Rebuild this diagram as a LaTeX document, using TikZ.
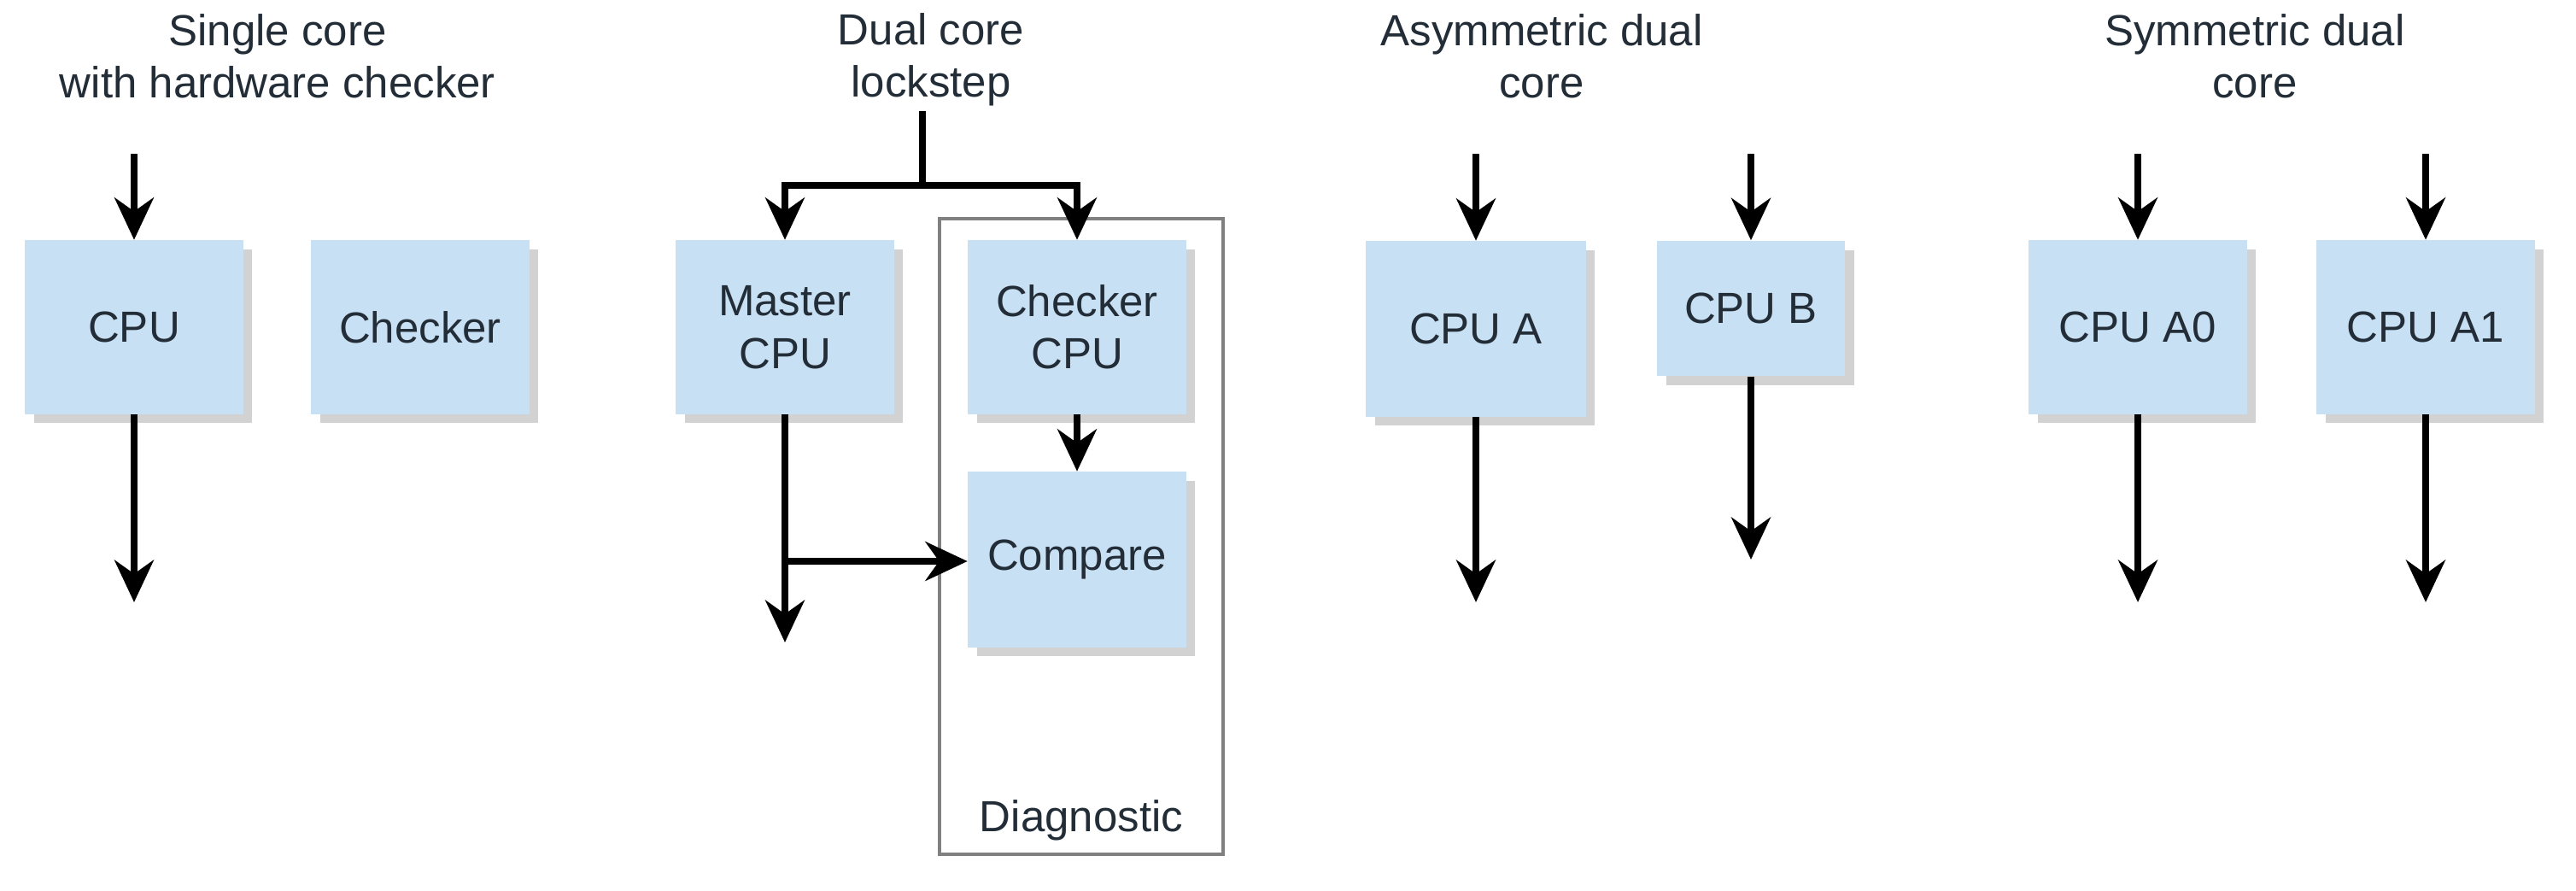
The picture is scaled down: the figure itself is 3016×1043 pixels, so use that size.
\documentclass[tikz,border=0pt]{standalone}
\usepackage{fontspec}
\setmainfont{Liberation Sans}
\usetikzlibrary{arrows.meta,shadows}
\definecolor{boxblue}{RGB}{200,224,244}
\definecolor{txt}{RGB}{35,45,55}
\begin{document}
\begin{tikzpicture}[x=0.01cm,y=-0.01cm,
  blk/.style={draw=none,fill=boxblue,inner sep=0pt,align=center,text=txt,
    font=\fontsize{14.5}{17.5}\selectfont,
    drop shadow={shadow xshift=3pt,shadow yshift=-3pt,fill=black!35,opacity=.5}},
  ttl/.style={align=center,font=\fontsize{14.5}{17.5}\selectfont,text=txt},
  arr/.style={line width=2.5pt,-{Stealth[length=14pt,width=13pt]}},
  ln/.style={line width=2.5pt}]
\useasboundingbox (0,0) rectangle (3016,1043);
% single core
\node[ttl] (t1) at (325,66) {Single core\\with hardware checker};
\node[blk,minimum width=2.55cm,minimum height=2.03cm] (cpu) at (157,383) {CPU};
\node[blk,minimum width=2.55cm,minimum height=2.03cm] (chk) at (492,383) {Checker};
\coordinate (cpuin) at (157,180);
\coordinate (cpuout) at (157,705);
\draw[arr] (cpuin) -- (cpu);
\draw[arr] (cpu) -- (cpuout);
% dual core lockstep
\node[ttl] (t2) at (1090,70) {Dual core\\lockstep};
\draw[gray,line width=1pt] (1100,256) rectangle (1432,1000);
\node[blk,minimum width=2.55cm,minimum height=2.03cm] (mst) at (919,383) {Master\\CPU};
\node[blk,minimum width=2.55cm,minimum height=2.03cm] (ccpu) at (1261,383) {Checker\\CPU};
\node[blk,minimum width=2.55cm,minimum height=2.05cm] (cmp) at (1261,655) {Compare};
\node[font=\fontsize{14.5}{17.5}\selectfont,text=txt] (diag) at (1266,960) {Diagnostic};
\coordinate (top) at (1080,130);
\coordinate (split) at (1080,217);
\coordinate (mout) at (919,752);
\coordinate (tap) at (919,657);
\draw[ln] (top) -- (split);
\draw[arr] (split) -| (mst);
\draw[arr] (split) -| (ccpu);
\draw[arr] (ccpu) -- (cmp);
\draw[arr] (mst) -- (mout);
\draw[arr] (tap) -- (cmp.west|-tap);
% asymmetric
\node[ttl] (t3) at (1805,66) {Asymmetric dual\\core};
\node[blk,minimum width=2.57cm,minimum height=2.05cm] (ca) at (1728,385) {CPU A};
\node[blk,minimum width=2.2cm,minimum height=1.58cm] (cb) at (2050,361) {CPU B};
\coordinate (ain) at (1728,180);
\coordinate (aout) at (1728,705);
\coordinate (bin) at (2050,180);
\coordinate (bout) at (2050,655);
\draw[arr] (ain) -- (ca);
\draw[arr] (ca) -- (aout);
\draw[arr] (bin) -- (cb);
\draw[arr] (cb) -- (bout);
% symmetric
\node[ttl] (t4) at (2640,66) {Symmetric dual\\core};
\node[blk,minimum width=2.55cm,minimum height=2.03cm] (a0) at (2503,383) {CPU A0};
\node[blk,minimum width=2.55cm,minimum height=2.03cm] (a1) at (2840,383) {CPU A1};
\coordinate (a0in) at (2503,180);
\coordinate (a0out) at (2503,705);
\coordinate (a1in) at (2840,180);
\coordinate (a1out) at (2840,705);
\draw[arr] (a0in) -- (a0);
\draw[arr] (a0) -- (a0out);
\draw[arr] (a1in) -- (a1);
\draw[arr] (a1) -- (a1out);
\end{tikzpicture}
\end{document}
